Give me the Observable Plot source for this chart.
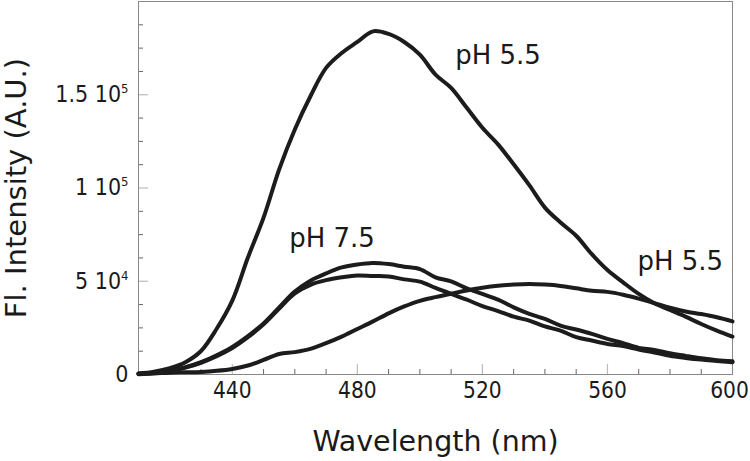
<!DOCTYPE html>
<html><head><meta charset="utf-8">
<script src="https://cdn.jsdelivr.net/npm/d3@7"></script>
<script src="https://cdn.jsdelivr.net/npm/@observablehq/plot@0.6"></script>
<style>
html,body{margin:0;padding:0;background:#fff}
</style></head><body><div id="chart"></div>
<script>
const wavelengths = [410,415,420,425,430,435,440,445,450,455,460,465,470,475,480,485,490,495,500,505,510,515,520,525,530,535,540,545,550,555,560,565,570,575,580,585,590,595,600];
const ph55High  = [500,1500,3400,6600,12600,24500,39600,62700,84100,110000,131400,149200,164400,172400,178300,184000,182600,178300,171500,160800,153700,143000,132300,123400,112700,101500,89500,81500,74400,64500,56000,49400,43200,38200,34600,31000,27100,23500,20300];
const ph75Upper = [400,900,2100,3900,6600,10300,14800,20600,27400,36000,44500,50300,54200,57400,59000,59800,59200,57800,56500,52100,49900,46200,43200,40100,36000,32500,29800,26200,24100,21800,19100,16800,14300,13200,11400,10000,8700,7700,7100];
const ph75Lower = [400,900,2000,3700,6300,9800,14200,20000,26900,35400,43500,48100,50600,52100,53100,52800,52600,51000,49800,46400,43200,40100,36700,34000,31000,28900,25800,23500,20000,18200,16400,15200,13400,11800,10000,8900,8000,7300,6600];
const ph55Broad = [200,500,1000,1200,1400,2000,3000,4800,7800,11000,12000,13700,16800,20300,24400,28500,32800,36500,39500,41500,43300,45000,46500,47600,48200,48500,48200,47500,46200,44900,44300,42800,40700,38300,35800,33800,32400,30700,28500];

const xMajorTicks = [440,480,520,560,600];
const xMinorTicks = [420,430,450,460,470,490,500,510,530,540,550,570,580,590];
const yMajorTicks = [0,50000,100000,150000];
const yTickLabels = ["0","5 10^4","1 10^5","1.5 10^5"];
const yMinorTicks = [12500,25000,37500,62500,75000,87500,112500,125000,137500,162500,175000,187500];

const annotLabels = ["pH 5.5","pH 7.5","pH 5.5"];
const annotX = [511.3,458.2,569.6];
const annotY = [166500,68450,56000];

const xTitle = "Wavelength (nm)";
const yTitle = "Fl. Intensity (A.U.)";

const seriesList = [
  {name:"pH 5.5 high", values: ph55High},
  {name:"pH 7.5 upper", values: ph75Upper},
  {name:"pH 7.5 lower", values: ph75Lower},
  {name:"pH 5.5 broad", values: ph55Broad}
];
const rows = seriesList.flatMap(s => wavelengths.map((w,i) => ({series:s.name, wl:w, v:s.values[i]})));
const annotations = annotLabels.map((t,i) => ({text:t, x:annotX[i], y:annotY[i]}));

const W = 750, H = 461, mL = 138, mR = 18, mT = 1, mB = 87;
const innerW = W - mL - mR, innerH = H - mT - mB;
const condensed = "'DejaVu Sans Condensed', 'DejaVu Sans', sans-serif";
const normal = "'DejaVu Sans', sans-serif";

const chart = Plot.plot({
  width: W, height: H,
  marginLeft: mL, marginRight: mR, marginTop: mT, marginBottom: mB,
  style: {fontFamily: normal, color: "#1a1a1a", background: "#fff"},
  x: {domain: [410, 600]},
  y: {domain: [0, 200000]},
  marks: [
    Plot.ruleX(xMinorTicks, {x: d => d, insetTop: innerH - 5, stroke: "#666", strokeWidth: 1}),
    Plot.ruleX(xMajorTicks, {x: d => d, insetTop: innerH - 10, stroke: "#bbb", strokeWidth: 1.2}),
    Plot.ruleY(yMinorTicks, {y: d => d, insetRight: innerW - 5, stroke: "#666", strokeWidth: 1}),
    Plot.ruleY(yMajorTicks, {y: d => d, insetRight: innerW - 10, stroke: "#bbb", strokeWidth: 1.2}),
    Plot.frame({stroke: "#888", strokeWidth: 1}),
    Plot.axisX({ticks: xMajorTicks, tickSize: 0, tickPadding: 8, label: null, fontSize: 22.5, fontFamily: condensed, fill: "#1a1a1a"}),
    Plot.axisY({ticks: yMajorTicks, tickFormat: d => yTickLabels[yMajorTicks.indexOf(d)], tickSize: 0, tickPadding: 10, label: null, fontSize: 23, fontFamily: condensed, fill: "#1a1a1a"}),
    Plot.line(rows, {x: "wl", y: "v", z: "series", stroke: "#1c1c1c", strokeWidth: 4, strokeLinejoin: "round", curve: "catmull-rom"}),
    Plot.text(annotations, {x: "x", y: "y", text: "text", textAnchor: "start", lineAnchor: "bottom", fontSize: 26, fontFamily: normal, fill: "#1a1a1a"}),
    Plot.text([xTitle], {frameAnchor: "bottom", text: d => d, textAnchor: "middle", dy: 76, lineAnchor: "bottom", fontSize: 28.5, fontFamily: normal, fill: "#1a1a1a"}),
    Plot.text([yTitle], {frameAnchor: "left", text: d => d, textAnchor: "middle", dx: -113, rotate: -90, lineAnchor: "bottom", fontSize: 29, fontFamily: normal, fill: "#1a1a1a"})
  ]
});

const ns = "http://www.w3.org/2000/svg";
chart.querySelectorAll('g[aria-label="y-axis tick label"] text').forEach(t => {
  const s = t.textContent;
  const i = s.indexOf("^");
  if (i < 0) return;
  while (t.firstChild) t.removeChild(t.firstChild);
  const a = document.createElementNS(ns, "tspan");
  a.textContent = s.slice(0, i);
  const b = document.createElementNS(ns, "tspan");
  b.textContent = s.slice(i + 1);
  b.setAttribute("font-size", "13");
  b.setAttribute("dy", "-9");
  t.appendChild(a); t.appendChild(b);
});
// keep the last x tick label inside the picture
chart.querySelectorAll('g[aria-label="x-axis tick label"] text').forEach(t => {
  if (t.textContent === "600") t.setAttribute("dx", "-3");
});
document.getElementById("chart").appendChild(chart);
</script>
</body></html>
